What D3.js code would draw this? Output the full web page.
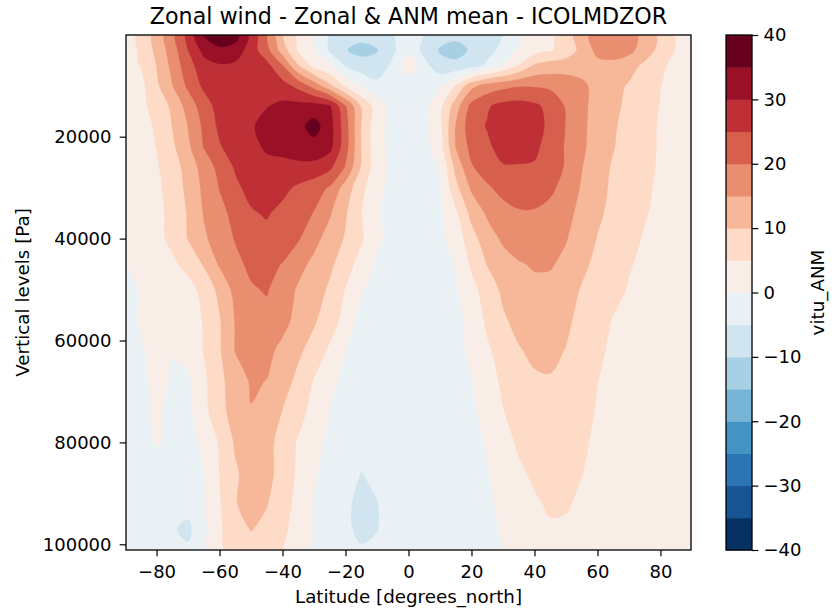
<!DOCTYPE html>
<html><head><meta charset="utf-8">
<script src="https://cdn.jsdelivr.net/npm/d3@7"></script>
<style>body{margin:0;background:#fff} svg text{font-family:"DejaVu Sans",sans-serif;fill:#000}</style>
</head><body>
<svg id="chart" width="832" height="613"></svg>
<script>
// ---------------- DATA ----------------
const lats = [-90,-85,-80,-75,-70,-65,-60,-55,-50,-45,-40,-35,-30,-25,-20,-15,-10,-5,0,5,10,15,20,25,30,35,40,45,50,55,60,65,70,75,80,85,90];
const pressureLevels = [40,3000,6000,10000,14000,18000,22000,26000,30000,35000,40000,45000,50000,56000,62000,68000,74000,80000,86000,92000,97000,101120];

// zonal wind (m/s) per pressure level, lat -90 .. 90
const u_40     = [3,6,12,18.5,26.5,35.3,38.5,37,28.5,20,10,3.8,-0.3,-6,-8.5,-8.5,-8,-5.5,-3,-5,-8,-9,-8.5,-7.5,-5,-1.5,2,3.8,7.5,13,17.5,19,17.5,13,9,4.5,3];
const u_3000   = [3.2,5.6,11.3,17.5,25,31.5,34,33,27.5,21.5,12.5,4.2,0.6,-6,-9.8,-11.5,-10.3,-6,-1.5,-6.5,-10.5,-11.5,-9.5,-7,-3.5,0.5,3,4.5,7,11.5,16.5,17.5,16.5,12.5,8.5,4.5,3];
const u_6000   = [3.5,5.2,10,16.5,23,28,29.5,29,28,26.5,20,10,3,0.2,-5.5,-8,-8.5,-4,4,-3.5,-8.5,-9,-7.5,-4,0.2,5,10.5,12,12.5,13,13.5,13.5,12,9,6,3.5,3];
const u_10000  = [3,3.5,9,14.8,21,26,28,28.5,29,28.5,27,23.5,18,11,4,-0.5,-3.5,-4,-4.8,-3,-0.5,5.2,13.5,17,18.5,19.5,19.5,19,18,16,13.5,11.5,9.5,7.5,5.1,3.5,2.5];
const u_14000  = [3,4,6.5,11,17,22.5,27,27.5,28.5,29.8,31,31.5,32,30.5,20.5,9.5,2.5,-2,-3,-1.5,3.5,12.5,21.5,24.5,26.5,27,26,23.5,19.5,16,13.5,11,9,7,4.8,3.5,2.5];
const u_18000  = [2.5,3.5,5.5,10.1,15.1,21,26,28,29.5,31.5,32.5,33.5,37,32,22,9.8,1.5,-1.5,-2.5,-1.5,3.5,15.3,23,25.3,28.5,29,27.5,23.5,19.8,16,13,10.5,8.5,6.5,4.5,3.5,2.5];
const u_22000  = [2.5,3.5,5.1,9,14,20.2,24.5,27.5,29,30.5,30.5,31,33,31.5,22,9.8,1.5,-1.5,-2.5,-1.5,2.5,15.2,21.5,24,27,27.5,26,23,19.5,16,12.5,10.2,8.2,6.5,4.5,3.5,2.5];
const u_26000  = [2.5,3.5,4.5,7.5,12,17,21.5,25.5,27.5,29,29.5,29.5,28.5,26,19.5,9.5,2,-1,-2,-1.5,0.2,11.5,19.5,22.5,24.5,24.5,24.5,22.5,19.5,15.2,11.8,9.5,7.8,6.2,4.4,3.3,2.5];
const u_30000  = [2,3.5,4.2,6.5,11.5,16,20.2,24,26.5,27.5,26.5,24,22,19.5,12.8,6.4,1.3,-1.5,-2,-1.5,-0.5,8.5,15.8,19.3,21.5,22.5,22.5,21,18.2,14.5,11.5,9.2,7.5,5.8,4.2,3.2,2.5];
const u_35000  = [1.5,3,4,6,10.5,15.3,18.5,21.5,24.5,25.5,23.5,22,19.8,15.5,10.5,5.2,0.3,-1.5,-2,-1.8,-1,4,11.5,15.7,18.3,19.5,19.5,18.5,16.5,13.5,10.8,8.8,7.2,5.3,4,3.2,2.5];
const u_40000  = [1,2.5,3.8,6,10.2,14.2,17.3,20.3,22.5,23.5,23,20.5,16.5,13,9.5,5.6,1,-1.5,-2,-1.8,-1,2,8,12.8,15.8,17.5,18,17.5,15.3,12.5,9.8,8,6.3,4.6,3.7,3,2.5];
const u_45000  = [0.1,1.5,3,4.2,6.3,10.5,15.6,18.8,21,21.5,19.8,16.6,13.8,11,7.3,3,-0.8,-1.8,-2,-2,-1.5,0.2,5.8,10.2,13,14.6,15.5,15.5,13.8,11.2,8.7,7.2,5.3,4.2,3.5,3,2.5];
const u_50000  = [-1,0.2,1.5,2.5,3.6,6.2,11.5,16.5,19.5,20.4,17.5,14.4,12.3,9.2,4.8,0.4,-1.6,-2,-2,-2,-1.8,-0.5,3.5,7.2,11,12.8,13.8,13.5,12.2,9.6,7.5,6.3,4.7,3.8,3.2,2.8,2.5];
const u_56000  = [-1.2,0.3,1.3,2.2,3.4,5.2,9.6,15.3,17.8,18.5,16.5,13.5,10.6,7.5,3.2,-2,-1.8,-2,-2,-2,-1.8,-1.3,1.2,6,9.3,11.5,12.5,12.2,11,8.5,6.5,4.8,3.9,3.3,3,2.7,2.5];
const u_62000  = [-1.5,-0.3,1,0.2,2,5.2,9.4,15.2,16.5,16.2,13.8,10.8,8.2,4.1,0.1,-1.8,-2,-2,-2,-2,-1.8,-1.2,0.8,4.2,7,9.6,11,11.2,9.8,7.8,5.8,4.2,3.5,3,2.8,2.6,2.5];
const u_68000  = [-1.8,-1,1.2,-0.5,-0.8,4,8.7,12.5,15.5,14.9,11.8,8.8,4.6,1.5,-1.5,-2,-2,-2,-2,-2,-1.8,-1.3,-0.2,3,5.8,7.8,9.3,9.6,8.5,6.8,5.1,3.8,3.2,2.9,2.7,2.5,2.4];
const u_74000  = [-2,-1.2,0.6,-1,-1.2,3.5,8.4,12,14.8,13.8,9.8,6.8,3.3,-0.1,-2,-2.2,-2.5,-2.2,-2,-2,-1.8,-1.4,-0.8,1.5,4.8,6.8,8.1,8.3,7.5,6.2,4.7,3.5,3,2.8,2.6,2.4,2.3];
const u_80000  = [-2.2,-1.5,0.3,-0.6,-1.3,0.8,5.5,10.6,12.6,11.5,8.2,4.5,1.5,-1,-2.2,-3,-2.8,-2.3,-2,-2,-1.8,-1.5,-1,0.3,3.2,5.7,7,7.2,6.5,5.6,4.3,3.3,2.9,2.7,2.5,2.4,2.3];
const u_86000  = [-2.5,-2,-1.8,-2,-2,-0.1,5.1,9.4,11.8,11.2,8.5,4,0.5,-1.5,-3,-5.1,-3.8,-2.5,-2,-2,-1.8,-1.6,-1.2,-0.3,2,4.2,5.8,6.5,6,5.1,4,3.2,2.8,2.6,2.5,2.4,2.3];
const u_92000  = [-2.5,-2.2,-2.2,-2.5,-3,-0.5,4.5,9.8,11.2,10.2,7.3,3.3,-0.2,-2,-4,-6.5,-5.2,-3,-2,-2,-1.8,-1.7,-1.4,-0.8,1,3,4.4,5.6,5.4,4.3,3.6,3,2.7,2.5,2.4,2.3,2.2];
const u_97000  = [-2.5,-2.5,-2.5,-4.5,-6.3,-1,4.2,8.5,10.2,9,6.2,2.6,-0.6,-2.2,-4,-6.3,-5.2,-3,-2,-2,-1.8,-1.7,-1.5,-1,0.4,2.2,3.6,4.5,4.4,3.8,3.2,2.8,2.6,2.4,2.3,2.2,2.2];
const u_101120 = [-2.5,-2.5,-2.5,-3.5,-4.2,-0.6,4,7.5,8.5,7.5,5.05,2,-0.7,-2,-3.5,-4.5,-4,-3,-2,-2,-1.8,-1.7,-1.5,-1.1,0.05,1.8,3.2,4,4,3.6,3.1,2.8,2.6,2.4,2.3,2.2,2.2];

const contourLevels = [-40,-35,-30,-25,-20,-15,-10,-5,0,5,10,15,20,25,30,35,40];
const cbTicks = [-40,-30,-20,-10,0,10,20,30,40];
const xTicks = [-80,-60,-40,-20,0,20,40,60,80];
const yTicks = [20000,40000,60000,80000,100000];
const rdbuAnchors = ["#67001f","#b2182b","#d6604d","#f4a582","#fddbc7","#f7f7f7","#d1e5f0","#92c5de","#4393c3","#2166ac","#053061"];

const titleText = "Zonal wind - Zonal & ANM mean - ICOLMDZOR";
const xLabel = "Latitude [degrees_north]";
const yLabel = "Vertical levels [Pa]";
const cbLabel = "vitu_ANM";

// ---------------- DRAW ----------------
const field = [u_40,u_3000,u_6000,u_10000,u_14000,u_18000,u_22000,u_26000,u_30000,u_35000,
  u_40000,u_45000,u_50000,u_56000,u_62000,u_68000,u_74000,u_80000,u_86000,u_92000,u_97000,u_101120];

const L = 126, R = 691, T = 35, B = 550;
const x = d3.scaleLinear().domain([-89.7, 89.7]).range([L, R]);
const y = d3.scaleLinear().domain([40, 101120]).range([T, B]);

// RdBu_r colormap (linear segments like matplotlib), sampled for 16 bands
const anchorsR = rdbuAnchors.slice().reverse();
function cmap(t) {
  const s = Math.max(0, Math.min(1, t)) * 10;
  const i = Math.min(9, Math.floor(s));
  return d3.interpolateRgb(anchorsR[i], anchorsR[i + 1])(s - i);
}
const nBands = contourLevels.length - 1;
const bandColors = d3.range(nBands).map(k => cmap(k / (nBands - 1)));

const svg = d3.select("#chart");
svg.append("defs").append("clipPath").attr("id", "plotClip")
  .append("rect").attr("x", L).attr("y", T).attr("width", R - L).attr("height", B - T);

const nx = lats.length, ny = pressureLevels.length;
const flat = field.flat();
const contours = d3.contours().size([nx, ny]).thresholds(contourLevels.slice(0, -1)).smooth(true)(flat);

function idxToVal(arr, f) {
  let i = Math.floor(f);
  if (i < 0) i = 0;
  if (i > arr.length - 2) i = arr.length - 2;
  const t = f - i;
  return arr[i] + t * (arr[i + 1] - arr[i]);
}
const px = gx => x(idxToVal(lats, gx - 0.5));
const py = gy => y(idxToVal(pressureLevels, gy - 0.5));
const ringLine = d3.line().curve(d3.curveCatmullRomClosed.alpha(0.5));
function mpPath(mp) {
  let s = "";
  for (const poly of mp.coordinates) for (const ring of poly) {
    const pts = ring.slice(0, -1).map(([a, b]) => [px(a), py(b)]);
    if (pts.length > 2) s += ringLine(pts);
  }
  return s;
}

const gPlot = svg.append("g").attr("clip-path", "url(#plotClip)");
gPlot.selectAll("path.band").data(contours).join("path")
  .attr("class", "band")
  .attr("d", mpPath)
  .attr("fill", (d, i) => bandColors[i])
  .attr("fill-rule", "evenodd")
  .attr("stroke", (d, i) => bandColors[i])
  .attr("stroke-width", 0.3);

// frame
svg.append("rect").attr("x", L).attr("y", T).attr("width", R - L).attr("height", B - T)
  .attr("fill", "none").attr("stroke", "#000").attr("stroke-width", 1.3);

const FS = 18;
function styleAxis(g) {
  g.select(".domain").remove();
  g.selectAll(".tick line").attr("stroke", "#000").attr("stroke-width", 1.2);
  g.selectAll(".tick text").attr("font-size", FS).attr("font-family", "DejaVu Sans").attr("fill", "#000");
  g.attr("font-family", null).attr("font-size", null);
}
const fmt = d3.format("d");
svg.append("g").attr("transform", `translate(0,${B})`)
  .call(d3.axisBottom(x).tickValues(xTicks).tickFormat(fmt).tickSize(6.3).tickPadding(8.9))
  .call(styleAxis);
svg.append("g").attr("transform", `translate(${L},0)`)
  .call(d3.axisLeft(y).tickValues(yTicks).tickFormat(fmt).tickSize(6.3).tickPadding(8.2))
  .call(styleAxis);

// title & labels
svg.append("text").attr("x", (L + R) / 2).attr("y", 24).attr("text-anchor", "middle")
  .attr("font-size", 22.2).text(titleText);
svg.append("text").attr("x", (L + R) / 2).attr("y", 602.7).attr("text-anchor", "middle")
  .attr("font-size", 18.3).text(xLabel);
svg.append("text").attr("transform", `translate(28.5,${(T + B) / 2}) rotate(-90)`)
  .attr("text-anchor", "middle").attr("font-size", 18.3).text(yLabel);

// colorbar
const cbL = 726, cbR = 752;
const yC = d3.scaleLinear().domain([-40, 40]).range([B, T]);
const gCb = svg.append("g");
gCb.selectAll("rect.cb").data(d3.range(nBands)).join("rect")
  .attr("class", "cb")
  .attr("x", cbL).attr("width", cbR - cbL)
  .attr("y", k => yC(contourLevels[k + 1]))
  .attr("height", k => yC(contourLevels[k]) - yC(contourLevels[k + 1]) + 0.5)
  .attr("fill", k => bandColors[k]);
svg.append("rect").attr("x", cbL).attr("y", T).attr("width", cbR - cbL).attr("height", B - T)
  .attr("fill", "none").attr("stroke", "#000").attr("stroke-width", 1.3);
svg.append("g").attr("transform", `translate(${cbR},0)`)
  .call(d3.axisRight(yC).tickValues(cbTicks).tickFormat(fmt).tickSize(6.3).tickPadding(5.2))
  .call(styleAxis);
svg.append("text").attr("transform", `translate(824,${(T + B) / 2}) rotate(-90)`)
  .attr("text-anchor", "middle").attr("font-size", 18.3).text(cbLabel);
</script>
</body></html>
